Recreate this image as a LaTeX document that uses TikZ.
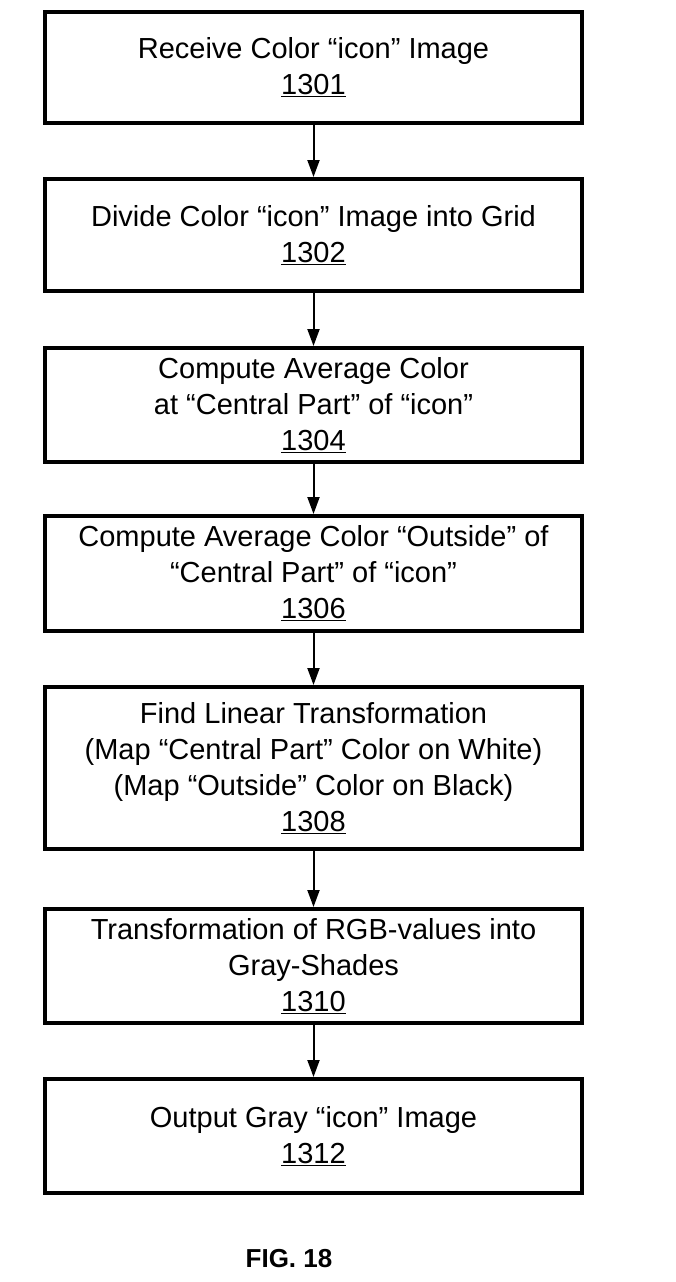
\documentclass[tikz,border=0pt]{standalone}
\usepackage{fontspec}
\setmainfont{Liberation Sans}
\usetikzlibrary{arrows.meta}

\begin{document}
\begin{tikzpicture}[x=1pt,y=-1pt,
    stepbox/.style={draw, line width=4pt, minimum width=537pt, align=center,
        inner sep=0pt, font=\fontsize{29}{36}\selectfont},
    flow/.style={line width=2pt, -{Triangle[length=17pt,width=12pt]}}]
    \useasboundingbox (0,0) rectangle (676,1282);
    % process steps
    \node[stepbox, minimum height=111pt] (recv) at (313.5,67.5)
        {Receive Color “icon” Image\\\underline{1301}};
    \node[stepbox, minimum height=112pt] (grid) at (313.5,235)
        {Divide Color “icon” Image into Grid\\\underline{1302}};
    \node[stepbox, minimum height=114pt] (central) at (313.5,405)
        {Compute Average Color\\at “Central Part” of “icon”\\\underline{1304}};
    \node[stepbox, minimum height=115pt] (outside) at (313.5,573.5)
        {Compute Average Color “Outside” of\\“Central Part” of “icon”\\\underline{1306}};
    \node[stepbox, minimum height=162pt] (linear) at (313.5,768)
        {Find Linear Transformation\\(Map “Central Part” Color on White)\\(Map “Outside” Color on Black)\\\underline{1308}};
    \node[stepbox, minimum height=114pt] (rgb) at (313.5,966)
        {Transformation of RGB-values into\\Gray-Shades\\\underline{1310}};
    \node[stepbox, minimum height=114pt] (gray) at (313.5,1136)
        {Output Gray “icon” Image\\\underline{1312}};
    % connectors
    \foreach \a/\b in {recv/grid, grid/central, central/outside, outside/linear, linear/rgb, rgb/gray}
        \draw[flow] (\a.south) -- (\b.north);
    \node[font=\fontsize{26}{30}\selectfont\bfseries] (fig) at (289,1259) {FIG. 18};
\end{tikzpicture}
\end{document}
